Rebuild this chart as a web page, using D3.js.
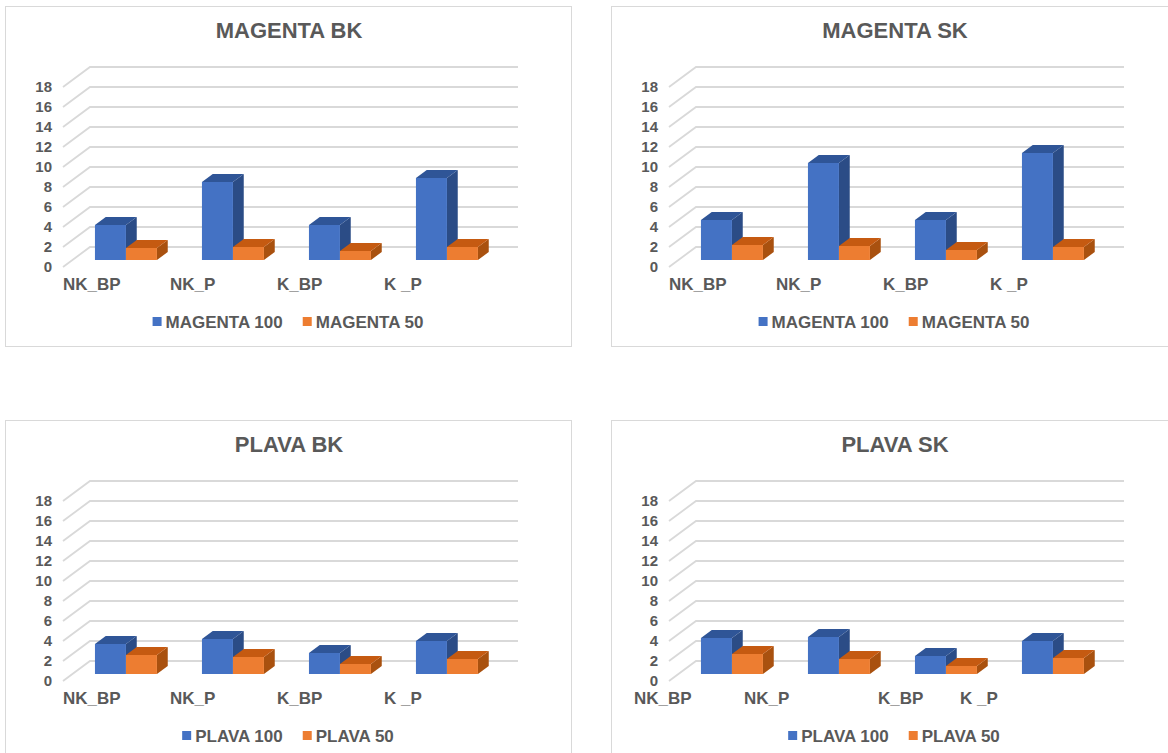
<!DOCTYPE html>
<html>
<head>
<meta charset="utf-8">
<script src="https://cdn.jsdelivr.net/npm/d3@7"></script>
<style>
  html, body { margin: 0; padding: 0; background: #ffffff; }
  svg { display: block; }
  text { font-family: "Liberation Sans", Arial, sans-serif; font-weight: bold; fill: #595959; }
</style>
</head>
<body>
<svg id="chart" width="1168" height="753"></svg>
<script>
// ---------------- DATA ----------------
const categories = ["NK_BP", "NK_P", "K_BP", "K _P"];
const yTicks = [0, 2, 4, 6, 8, 10, 12, 14, 16, 18];

const chartTitles = ["MAGENTA BK", "MAGENTA SK", "PLAVA BK", "PLAVA SK"];
const seriesNamesMagenta = ["MAGENTA 100", "MAGENTA 50"];
const seriesNamesPlava = ["PLAVA 100", "PLAVA 50"];

const magentaBK100 = [3.5, 7.8, 3.5, 8.2];
const magentaBK50  = [1.2, 1.3, 0.9, 1.3];
const magentaSK100 = [4.0, 9.7, 4.0, 10.7];
const magentaSK50  = [1.5, 1.4, 1.0, 1.3];
const plavaBK100   = [3.0, 3.5, 2.1, 3.3];
const plavaBK50    = [1.9, 1.7, 1.0, 1.5];
const plavaSK100   = [3.6, 3.7, 1.8, 3.3];
const plavaSK50    = [2.0, 1.5, 0.8, 1.6];

// ---------------- LAYOUT / STYLE ----------------
const charts = [
  { title: chartTitles[0], names: seriesNamesMagenta, series: [magentaBK100, magentaBK50], ox: 0,   oy: 0,   labelShift: [0, 0, 0, 0] },
  { title: chartTitles[1], names: seriesNamesMagenta, series: [magentaSK100, magentaSK50], ox: 606, oy: 0,   labelShift: [0, 0, 0, 0] },
  { title: chartTitles[2], names: seriesNamesPlava,   series: [plavaBK100, plavaBK50],     ox: 0,   oy: 414, labelShift: [0, 0, 0, 0] },
  { title: chartTitles[3], names: seriesNamesPlava,   series: [plavaSK100, plavaSK50],     ox: 606, oy: 414, labelShift: [-35, -32, -5, -30] }
];

const faceColors = [
  { front: "#4472C4", top: "#2F5597", side: "#2B4C86" },
  { front: "#ED7D31", top: "#C55A11", side: "#A9510F" }
];
const legendColors = ["#4472C4", "#ED7D31"];

const DX = 27, DY = -20;      // wall depth projection
const D0 = 0.35, D1 = 0.75;   // bar depth range (fraction of wall depth)

const svg = d3.select("#chart");

function drawChart(cfg) {
  const g = svg.append("g").attr("transform", `translate(${cfg.ox},${cfg.oy})`);

  // panel
  g.append("rect")
    .attr("x", 5.5).attr("y", 6.5).attr("width", 566).attr("height", 340)
    .attr("fill", "#ffffff").attr("stroke", "#d9d9d9").attr("stroke-width", 1);

  // title
  g.append("text")
    .attr("x", 289).attr("y", 38)
    .attr("text-anchor", "middle")
    .style("font-size", "22px")
    .text(cfg.title);

  const y = d3.scaleLinear().domain([0, 18]).range([267, 87]);
  const x = d3.scaleBand().domain(categories).range([63, 491]).padding(0);
  const xs = d3.scaleBand().domain([0, 1]).range([0, x.bandwidth()])
    .paddingInner(0).paddingOuter(0.726);

  const P = (px, v, d) => [px + d * DX, y(v) + d * DY];
  const line = d3.line();

  // gridlines: side wall diagonals + back wall horizontals
  const grid = g.append("g");
  yTicks.forEach(v => {
    grid.append("path")
      .attr("d", line([P(63, v, 0), P(63, v, 1), P(491, v, 1)]))
      .attr("fill", "none")
      .attr("stroke", "#d9d9d9")
      .attr("stroke-width", 1.8);
  });

  // y axis labels
  const yAxis = d3.axisLeft(y).tickValues(yTicks).tickSize(0).tickPadding(11);
  const ya = g.append("g").attr("transform", "translate(63,0)").call(yAxis);
  ya.select(".domain").remove();
  ya.selectAll("text")
    .style("font-size", "15px")
    .style("font-family", '"Liberation Sans", Arial, sans-serif')
    .attr("fill", "#595959");

  // bars (left to right)
  const bars = g.append("g");
  categories.forEach((c, ci) => {
    cfg.series.forEach((s, si) => {
      const v = s[ci];
      const x0 = x(c) + xs(si);
      const x1 = x0 + xs.bandwidth();
      const col = faceColors[si];
      bars.append("path")
        .attr("d", line([P(x1, 0, D0), P(x1, v, D0), P(x1, v, D1), P(x1, 0, D1)]) + "Z")
        .attr("fill", col.side);
      bars.append("path")
        .attr("d", line([P(x0, v, D0), P(x1, v, D0), P(x1, v, D1), P(x0, v, D1)]) + "Z")
        .attr("fill", col.top);
      bars.append("path")
        .attr("d", line([P(x0, 0, D0), P(x0, v, D0), P(x1, v, D0), P(x1, 0, D0)]) + "Z")
        .attr("fill", col.front);
    });
  });

  // category labels
  const xAxis = d3.axisBottom(x).tickSize(0).tickPadding(0);
  const xa = g.append("g").attr("transform", "translate(0,278)").call(xAxis);
  xa.select(".domain").remove();
  xa.selectAll("text")
    .attr("text-anchor", "start")
    .attr("x", (d, i) => -x.bandwidth() / 2 + cfg.labelShift[i])
    .attr("y", 0)
    .attr("dy", "0.71em")
    .style("font-size", "17px")
    .style("font-family", '"Liberation Sans", Arial, sans-serif')
    .attr("fill", "#595959");

  // legend
  const leg = g.append("g");
  let cx = 0;
  cfg.names.forEach((n, i) => {
    const it = leg.append("g");
    it.append("rect").attr("x", 0).attr("y", -5).attr("width", 9).attr("height", 9).attr("fill", legendColors[i]);
    const t = it.append("text").attr("x", 13).attr("y", 0).attr("dy", "0.36em")
      .style("font-size", "17px").text(n);
    const w = 13 + t.node().getComputedTextLength();
    it.attr("transform", `translate(${cx},0)`);
    cx += w + (i === 0 ? 20 : 0);
  });
  leg.attr("transform", `translate(${288 - cx / 2},322)`);
}

charts.forEach(drawChart);
</script>
</body>
</html>
